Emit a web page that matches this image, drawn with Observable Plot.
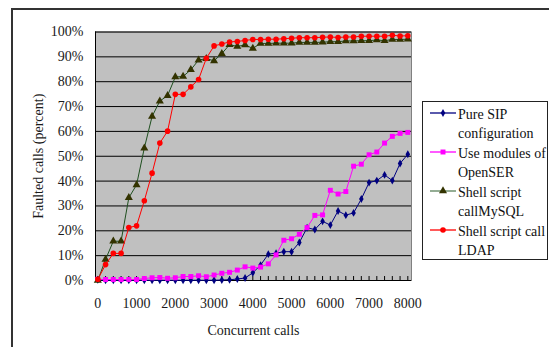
<!DOCTYPE html>
<html>
<head>
<meta charset="utf-8">
<script src="https://cdn.jsdelivr.net/npm/d3@7"></script>
<script src="https://cdn.jsdelivr.net/npm/@observablehq/plot@0.6"></script>
<style>
  html, body { margin: 0; padding: 0; background: #fff; }
  #wrap { position: relative; width: 549px; height: 347px; overflow: hidden; font-family: "Liberation Serif", "Times New Roman", serif; }
  #wrap svg { position: absolute; left: 0; top: 0; }
  #outer { position: absolute; left: 11px; top: 8px; width: 600px; height: 400px; border: 2px solid #333; box-sizing: border-box; pointer-events: none; }
  #legend { position: absolute; left: 422px; top: 101px; width: 126px; height: 159px; border: 1px solid #222; box-sizing: border-box; background: #fff; }
  .entry { position: absolute; left: 0; font-size: 14px; line-height: 19px; color: #111; white-space: pre; }
  .entry svg { position: absolute; }
</style>
</head>
<body>
<div id="wrap"></div>
<script>
// ---- data ----
const concurrentCalls = [0,200,400,600,800,1000,1200,1400,1600,1800,2000,2200,2400,2600,2800,3000,3200,3400,3600,3800,4000,4200,4400,4600,4800,5000,5200,5400,5600,5800,6000,6200,6400,6600,6800,7000,7200,7400,7600,7800,8000];
const pureSIP = [0.3,0.1,0.1,0.1,0.1,0.1,0.1,0.1,0.1,0.1,0.1,0.1,0.1,0.1,0.1,0.1,0.2,0.3,0.6,1.0,3.1,6.2,10.6,11.0,11.6,11.6,15.3,21.2,20.5,23.8,22.3,28.0,26.3,27.2,32.8,39.4,40.2,42.5,40.2,47.1,50.8];
const openSER = [0.5,0.4,0.4,0.4,0.4,0.4,0.8,1.1,1.2,0.9,1.1,1.6,1.6,1.9,1.5,2.2,2.9,3.3,4.2,5.5,5.0,5.4,6.7,10.3,16.2,16.8,18.6,21.3,26.2,26.4,36.3,34.8,35.8,46.0,46.8,50.6,51.7,55.3,58.0,59.2,59.6];
const mySQL = [0.0,8.5,15.8,15.8,33.3,38.5,53.3,66.0,72.2,74.4,81.9,82.1,84.8,88.7,89.3,88.4,91.3,94.9,94.2,94.8,93.4,95.4,95.4,95.5,95.5,95.5,95.8,95.8,95.8,95.9,96.1,96.1,96.4,96.4,96.5,96.5,96.8,96.5,97.0,97.0,97.1];
const ldap = [0.5,6.4,10.9,10.9,21.3,22.0,32.1,43.2,55.3,60.1,74.9,74.9,77.9,80.9,89.4,94.4,95.2,96.0,96.2,96.6,97.0,97.0,97.1,97.1,97.3,97.5,97.7,97.7,97.7,97.9,98.0,97.8,98.0,98.0,98.3,98.3,98.3,98.3,98.7,98.4,98.5];
const seriesNames = ["Pure SIP configuration", "Use modules of OpenSER", "Shell script callMySQL", "Shell script call LDAP"];
const legendLabels = ["Pure SIP\nconfiguration", "Use modules of\nOpenSER", "Shell script\ncallMySQL", "Shell script call\nLDAP"];
const xTickLabels = [0,1000,2000,3000,4000,5000,6000,7000,8000];
const yTicks = [0,10,20,30,40,50,60,70,80,90,100];

// ---- styles ----
const styles = [
  {line: "#000080", fill: "#000080", symbol: "diamond", r: 2.4},
  {line: "#ff00ff", fill: "#ff00ff", symbol: "square", r: 2.8},
  {line: "#1f4f1f", fill: "#333300", symbol: "triangle", r: 3.0},
  {line: "#ff0000", fill: "#ff0000", symbol: "circle", r: 2.8}
];
const values = [pureSIP, openSER, mySQL, ldap];
const xDomain = [-60, 8095];

const marks = [
  Plot.frame({fill: "#c0c0c0", stroke: "#808080"}),
  Plot.ruleY(yTicks, {stroke: "#000", strokeWidth: 1}),
  Plot.ruleX([xDomain[0]], {stroke: "#000"}),
  Plot.ruleX(concurrentCalls, {x: d => d, y1: 0, y2: 1.6, stroke: "#000"})
];
values.forEach((vals, i) => {
  const rows = concurrentCalls.map((c, j) => ({x: c, y: vals[j], s: seriesNames[i]}));
  const st = styles[i];
  marks.push(Plot.line(rows, {x: "x", y: "y", stroke: st.line, strokeWidth: 1}));
  marks.push(Plot.dot(rows, {x: "x", y: "y", symbol: () => st.symbol, r: st.r, fill: st.fill, stroke: "none"}));
});

const chart = Plot.plot({
  width: 549,
  height: 347,
  marginLeft: 95,
  marginRight: 138,
  marginTop: 31.5,
  marginBottom: 67,
  style: {fontFamily: "'Liberation Serif', 'Times New Roman', serif", fontSize: "14px", color: "#1a1a1a", background: "transparent", overflow: "visible"},
  x: {domain: xDomain, ticks: xTickLabels, tickFormat: d => String(d), tickSize: 0, tickPadding: 18, label: "Concurrent calls", labelAnchor: "center", labelOffset: 54, labelArrow: "none"},
  y: {domain: [0, 100], ticks: yTicks, tickFormat: d => d + "%", tickSize: 0, tickPadding: 12, label: "Faulted calls (percent)", labelAnchor: "center", labelOffset: 62, labelArrow: "none"},
  marks
});

const wrap = document.getElementById("wrap");
wrap.appendChild(chart);
const outer = document.createElement("div");
outer.id = "outer";
wrap.appendChild(outer);

// ---- legend ----
const legend = document.createElement("div");
legend.id = "legend";
wrap.appendChild(legend);
legendLabels.forEach((lab, i) => {
  const st = styles[i];
  const e = document.createElement("div");
  e.className = "entry";
  e.style.top = (3 + 39 * i) + "px";
  e.style.left = "0px";
  const sw = d3.create("svg").attr("width", 28).attr("height", 12)
    .style("left", "7px").style("top", "2px");
  sw.append("line").attr("x1", 0).attr("x2", 26).attr("y1", 6).attr("y2", 6)
    .attr("stroke", i === 2 ? "#5a805a" : st.line).attr("stroke-width", 1.3);
  const sym = {diamond: d3.symbolDiamond, square: d3.symbolSquare, triangle: d3.symbolTriangle, circle: d3.symbolCircle}[st.symbol];
  sw.append("path").attr("d", d3.symbol(sym, Math.PI * st.r * st.r)()).attr("transform", "translate(13,6)").attr("fill", st.fill);
  e.appendChild(sw.node());
  const t = document.createElement("div");
  t.style.position = "absolute";
  t.style.left = "35px";
  t.style.top = "0px";
  t.textContent = lab;
  e.appendChild(t);
  legend.appendChild(e);
});
</script>
</body>
</html>
